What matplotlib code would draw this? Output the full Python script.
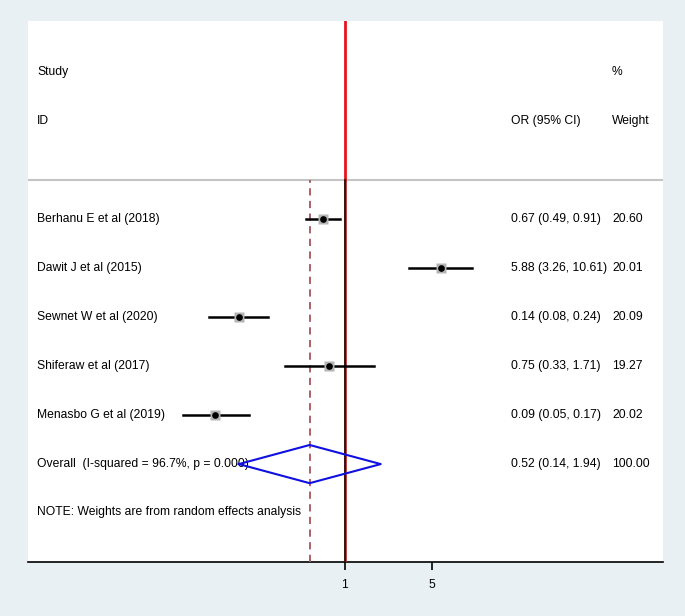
import numpy as np
import matplotlib.pyplot as plt
from matplotlib.transforms import blended_transform_factory

plt.rcParams['font.family'] = ['Liberation Sans', 'DejaVu Sans']

# Datos
studies = ['Berhanu E et al (2018)', 'Dawit J et al (2015)', 'Sewnet W et al (2020)',
           'Shiferaw et al (2017)', 'Menasbo G et al (2019)']
odds = [0.67, 5.88, 0.14, 0.75, 0.09]
lower = [0.49, 3.26, 0.08, 0.33, 0.05]
upper = [0.91, 10.61, 0.24, 1.71, 0.17]
weights = ['20.60', '20.01', '20.09', '19.27', '20.02']
overall = 0.52
overall_ci = (0.14, 1.94)
overall_label = 'Overall  (I-squared = 96.7%, p = 0.000)'
overall_weight = '100.00'
note = 'NOTE: Weights are from random effects analysis'
xticks = [1, 5]

bg = '#e9f0f3'
fig = plt.figure(figsize=(6.85, 6.16), dpi=100, facecolor=bg)
ax = fig.add_axes([28 / 685, 1 - 562 / 616, 635 / 685, 541 / 616])
ax.set_facecolor('white')
ax.set_xscale('log')
ax.set_xlim(np.exp(-5.87), np.exp(5.89))
ax.set_ylim(0, 11.05)

rows = [7, 6, 5, 4, 3]
y_over = 2
y_head = 7.8
fs = 8.7
tr = blended_transform_factory(ax.transAxes, ax.transData)
x_lab, x_or, x_w = 0.0142, 0.7606, 0.9197

# Encabezado
ax.text(x_lab, 10, 'Study', transform=tr, va='center', fontsize=fs)
ax.text(x_lab, 9, 'ID', transform=tr, va='center', fontsize=fs)
ax.text(x_or, 9, 'OR (95% CI)', transform=tr, va='center', fontsize=fs)
ax.text(x_w, 10, '%', transform=tr, va='center', fontsize=fs)
ax.text(x_w, 9, 'Weight', transform=tr, va='center', fontsize=fs)
ax.axhline(y_head, color='#c4c4c4', lw=1.5, zorder=2)

# Líneas de referencia
ax.plot([1, 1], [y_head, 11.05], color='#e8141c', lw=2, zorder=3)
ax.plot([1, 1], [0, y_head], color='#b03030', lw=2, zorder=3)
ax.plot([1, 1], [0, y_head], color='#2a0a0a', lw=1.2, zorder=3)
ax.plot([overall, overall], [0, y_head], color='#a5545c', lw=1.3,
        linestyle=(0, (4, 3)), zorder=3)

# Estudios
for y, name, o, lo, hi, w in zip(rows, studies, odds, lower, upper, weights):
    ax.plot([lo, hi], [y, y], color='black', lw=1.8, zorder=4)
    ax.plot(o, y, 's', color='#b5b5b5', ms=7, mec='none', zorder=4)
    ax.plot(o, y, 'o', color='black', ms=3.8, zorder=5)
    ax.text(x_lab, y, name, transform=tr, va='center', fontsize=fs)
    ax.text(x_or, y, f'{o:.2f} ({lo:.2f}, {hi:.2f})', transform=tr, va='center', fontsize=fs)
    ax.text(x_w, y, w, transform=tr, va='center', fontsize=fs)

# Efecto global
ax.text(x_lab, y_over, overall_label, transform=tr, va='center', fontsize=fs, zorder=1)
dx = [overall_ci[0], overall, overall_ci[1], overall, overall_ci[0]]
dy = [y_over, y_over + 0.39, y_over, y_over - 0.39, y_over]
ax.plot(dx, dy, color='#1010e0', lw=1.5, zorder=6)
ax.text(x_or, y_over, f'{overall:.2f} ({overall_ci[0]:.2f}, {overall_ci[1]:.2f})',
        transform=tr, va='center', fontsize=fs)
ax.text(x_w, y_over, overall_weight, transform=tr, va='center', fontsize=fs)

ax.text(x_lab, 1.02, note, transform=tr, va='center', fontsize=fs)

# Ejes
for s in ['top', 'left', 'right']:
    ax.spines[s].set_visible(False)
ax.spines['bottom'].set_linewidth(1.2)
ax.set_yticks([])
ax.set_xticks(xticks)
ax.set_xticklabels([str(t) for t in xticks], fontsize=fs)
ax.xaxis.set_minor_locator(plt.NullLocator())
ax.tick_params(axis='x', length=6, width=1.2, pad=6)

fig.savefig('out.png', dpi=100, facecolor=bg)
